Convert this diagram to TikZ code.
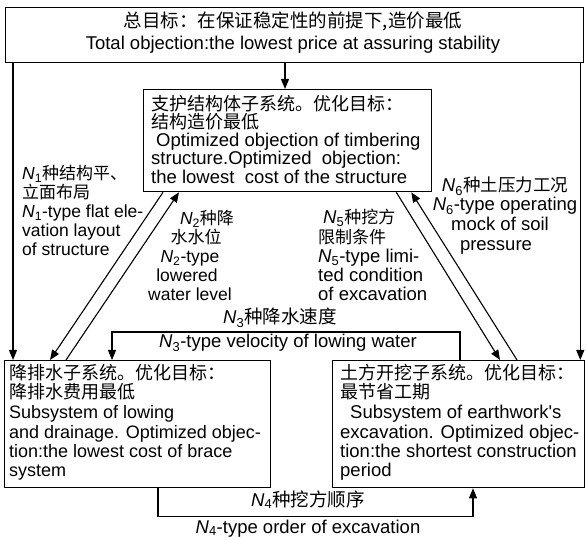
\documentclass[tikz,border=0pt]{standalone}
\usepackage{fontspec}
\setmainfont{Liberation Sans}
\newfontfamily\cjk{Noto Sans CJK SC}
\usetikzlibrary{arrows.meta,calc}
\newcommand\Nsub[1]{{\itshape N}\textsubscript{#1}}
\begin{document}
\begin{tikzpicture}[x=1pt,y=-1pt,
  box/.style={draw, line width=1.3pt, inner sep=0pt, anchor=north west},
  conn/.style={line width=1.1pt},
  arr/.style={conn, -{Triangle[length=10pt,width=8pt]}},
  big/.style={font=\fontsize{18.5}{19}\selectfont},
  mid/.style={font=\fontsize{18}{19}\selectfont},
  sml/.style={font=\fontsize{17.5}{19}\selectfont},
  tl/.style={inner sep=0pt, anchor=base west},
  tc/.style={inner sep=0pt, anchor=base},
]
\useasboundingbox[fill=white] (0,0) rectangle (587,540);

% boxes
\node[box, minimum width=578pt, minimum height=55pt] (top) at (5,7) {};
\node[box, minimum width=288pt, minimum height=102pt] (st) at (143,89) {};
\node[box, minimum width=266pt, minimum height=127pt] (dr) at (4,360) {};
\node[box, minimum width=252pt, minimum height=127pt] (ew) at (332,360) {};

% connectors
\draw[arr] ($(top.south west)+(280,0)$) -- ($(st.north west)+(142,0)$);
\draw[arr] ($(top.south west)+(8,0)$) -- ($(dr.north west)+(9,0)$);
\draw[arr] ($(top.south east)+(-4,0)$) -- ($(ew.north east)+(-5,0)$);
\draw[arr] ($(st.south west)+(20,0)$) -- ($(dr.north west)+(46,0)$);
\draw[arr] ($(dr.north west)+(62,0)$) -- ($(st.south west)+(36,0)$);
\draw[arr] ($(st.south east)+(-36,0)$) -- ($(ew.north west)+(168,0)$);
\draw[arr] ($(ew.north west)+(185,0)$) -- ($(st.south east)+(-21,0)$);
\draw[arr] ($(ew.north west)+(128,0)$) -- ++(0,-28) -| ($(dr.north west)+(108,0)$);
\draw[arr] ($(dr.south west)+(154,0)$) -- ++(0,28) -| ($(ew.south west)+(141,0)$);

% top box text
\node[tc,big] (t1) at (293,28) {\cjk 总目标：在保证稳定性的前提下,造价最低};
\node[tc,big] (t2) at (293,50) {Total objection:the lowest price at assuring stability};

% structure box text
\node[tl,mid] (s1) at (151,111) {\cjk 支护结构体子系统。优化目标：};
\node[tl,mid] (s2) at (151,129) {\cjk 结构造价最低};
\node[tl,big] (s3) at (156,147) {Optimized objection of timbering};
\node[tl,big] (s4) at (151,165) {structure.Optimized\ \ objection:};
\node[tl,big] (s5) at (151,184) {the lowest\ \ cost of the structure};

% N1 label
\node[tl,sml] (a1) at (22,180) {\Nsub{1}{\cjk\fontsize{17}{19}\selectfont 种结构平、}};
\node[tl,sml] (a2) at (22,199) {\cjk\fontsize{17}{19}\selectfont 立面布局};
\node[tl,sml] (a3) at (22,218) {\Nsub{1}-type flat ele-};
\node[tl,sml] (a4) at (22,237) {vation layout};
\node[tl,sml] (a5) at (22,256) {of structure};

% N2 label
\node[tc,sml] (b1) at (207,225) {\Nsub{2}{\cjk\fontsize{17}{19}\selectfont 种降}};
\node[tc,sml] (b2) at (196,244) {\cjk\fontsize{17}{19}\selectfont 水水位};
\node[tc,sml] (b3) at (190,263) {\Nsub{2}-type};
\node[tc,sml] (b4) at (187,282) {lowered};
\node[tc,sml] (b5) at (190,301) {water level};

% N5 label
\node[tl,big] (c1) at (323,224) {\Nsub{5}{\cjk\fontsize{17}{19}\selectfont 种挖方}};
\node[tl,big] (c2) at (318,244) {\cjk\fontsize{17}{19}\selectfont 限制条件};
\node[tl,big] (c3) at (318,263) {\Nsub{5}-type limi-};
\node[tl,big] (c4) at (318,282) {ted condition};
\node[tl,big] (c5) at (318,301) {of excavation};

% N6 label
\node[tc,big] (d1) at (505,192) {\Nsub{6}{\cjk\fontsize{17.5}{19}\selectfont 种土压力工况}};
\node[tc,big] (d2) at (505,211) {\Nsub{6}-type operating};
\node[tc,big] (d3) at (500,231) {mock of soil};
\node[tc,big] (d4) at (496,251) {pressure};

% N3 labels
\node[tc,big] (e1) at (280,324) {\Nsub{3}{\cjk 种降水速度}};
\node[tc,big] (e2) at (288,348) {\Nsub{3}-type velocity of lowing water};

% drainage box text
\node[tl,mid] (f1) at (9,380) {\cjk 降排水子系统。优化目标：};
\node[tl,mid] (f2) at (9,399) {\cjk 降排水费用最低};
\node[tl,mid] (f3) at (9,418) {Subsystem of lowing};
\node[tl,mid] (f4) at (9,438) {and drainage. Optimized objec-};
\node[tl,mid] (f5) at (9,457) {tion:the lowest cost of brace};
\node[tl,mid] (f6) at (9,476) {system};

% earthwork box text
\node[tl,mid] (g1) at (340,380) {\cjk 土方开挖子系统。优化目标：};
\node[tl,mid] (g2) at (340,399) {\cjk 最节省工期};
\node[tl,big] (g3) at (350,418) {Subsystem of earthwork\textquotesingle s};
\node[tl,big] (g4) at (340,438) {excavation. Optimized objec-};
\node[tl,big] (g5) at (340,457) {tion:the shortest construction};
\node[tl,big] (g6) at (340,476) {period};

% N4 labels
\node[tc,big] (h1) at (308,506) {\Nsub{4}{\cjk 种挖方顺序}};
\node[tc,big] (h2) at (308,533) {\Nsub{4}-type order of excavation};
\end{tikzpicture}
\end{document}
